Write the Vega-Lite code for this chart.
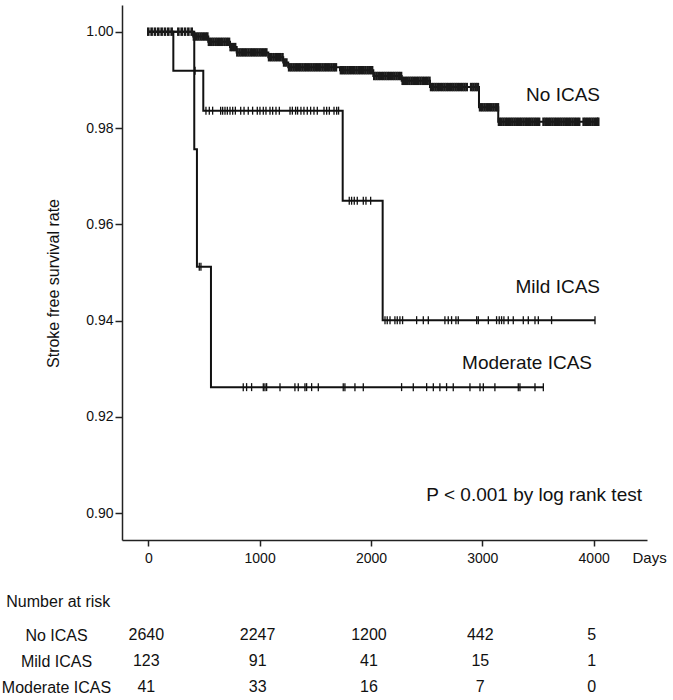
{
 "$schema": "https://vega.github.io/schema/vega-lite/v6.json",
 "padding": {"left": 1, "top": 5, "right": 0, "bottom": 0},
 "background": "white",
 "spacing": 29,
 "config": {
  "font": "Liberation Sans",
  "view": {"stroke": null},
  "axis": {"domainColor": "#222", "tickColor": "#222", "labelColor": "#111", "titleColor": "#111", "grid": false}
 },
 "datasets": {
  "curves": [
   {"g": "No ICAS", "t": 0, "s": 1.0},
   {"g": "No ICAS", "t": 404, "s": 0.999},
   {"g": "No ICAS", "t": 539, "s": 0.9979},
   {"g": "No ICAS", "t": 734, "s": 0.9968},
   {"g": "No ICAS", "t": 794, "s": 0.9957},
   {"g": "No ICAS", "t": 1078, "s": 0.9947},
   {"g": "No ICAS", "t": 1212, "s": 0.9936},
   {"g": "No ICAS", "t": 1257, "s": 0.9926},
   {"g": "No ICAS", "t": 1722, "s": 0.992},
   {"g": "No ICAS", "t": 2021, "s": 0.9908},
   {"g": "No ICAS", "t": 2276, "s": 0.9898},
   {"g": "No ICAS", "t": 2530, "s": 0.9885},
   {"g": "No ICAS", "t": 2970, "s": 0.9843},
   {"g": "No ICAS", "t": 3143, "s": 0.9813},
   {"g": "No ICAS", "t": 4041, "s": 0.9813},
   {"g": "Mild ICAS", "t": 0, "s": 1.0},
   {"g": "Mild ICAS", "t": 225, "s": 0.9919},
   {"g": "Mild ICAS", "t": 494, "s": 0.9836},
   {"g": "Mild ICAS", "t": 1746, "s": 0.9649},
   {"g": "Mild ICAS", "t": 2105, "s": 0.9401},
   {"g": "Mild ICAS", "t": 4012, "s": 0.9401},
   {"g": "Moderate ICAS", "t": 0, "s": 1.0},
   {"g": "Moderate ICAS", "t": 413, "s": 0.9756},
   {"g": "Moderate ICAS", "t": 437, "s": 0.9512},
   {"g": "Moderate ICAS", "t": 563, "s": 0.9262},
   {"g": "Moderate ICAS", "t": 3548, "s": 0.9262}
  ],
  "censor": [
   {"g": "No ICAS", "t": 0, "s": 1.0}, {"g": "No ICAS", "t": 30, "s": 1.0}, {"g": "No ICAS", "t": 60, "s": 1.0}, {"g": "No ICAS", "t": 90, "s": 1.0}, {"g": "No ICAS", "t": 120, "s": 1.0}, {"g": "No ICAS", "t": 150, "s": 1.0}, {"g": "No ICAS", "t": 180, "s": 1.0}, {"g": "No ICAS", "t": 210, "s": 1.0}, {"g": "No ICAS", "t": 270, "s": 1.0}, {"g": "No ICAS", "t": 300, "s": 1.0}, {"g": "No ICAS", "t": 330, "s": 1.0}, {"g": "No ICAS", "t": 360, "s": 1.0}, {"g": "No ICAS", "t": 390, "s": 1.0},
   {"g": "No ICAS", "t": 410, "s": 0.999}, {"g": "No ICAS", "t": 430, "s": 0.999}, {"g": "No ICAS", "t": 450, "s": 0.999}, {"g": "No ICAS", "t": 470, "s": 0.999}, {"g": "No ICAS", "t": 490, "s": 0.999}, {"g": "No ICAS", "t": 510, "s": 0.999}, {"g": "No ICAS", "t": 530, "s": 0.999},
   {"g": "No ICAS", "t": 545, "s": 0.9979}, {"g": "No ICAS", "t": 565, "s": 0.9979}, {"g": "No ICAS", "t": 585, "s": 0.9979}, {"g": "No ICAS", "t": 605, "s": 0.9979}, {"g": "No ICAS", "t": 625, "s": 0.9979}, {"g": "No ICAS", "t": 645, "s": 0.9979}, {"g": "No ICAS", "t": 665, "s": 0.9979}, {"g": "No ICAS", "t": 685, "s": 0.9979}, {"g": "No ICAS", "t": 705, "s": 0.9979}, {"g": "No ICAS", "t": 725, "s": 0.9979},
   {"g": "No ICAS", "t": 740, "s": 0.9968}, {"g": "No ICAS", "t": 760, "s": 0.9968}, {"g": "No ICAS", "t": 780, "s": 0.9968},
   {"g": "No ICAS", "t": 800, "s": 0.9957}, {"g": "No ICAS", "t": 820, "s": 0.9957}, {"g": "No ICAS", "t": 840, "s": 0.9957}, {"g": "No ICAS", "t": 860, "s": 0.9957}, {"g": "No ICAS", "t": 880, "s": 0.9957}, {"g": "No ICAS", "t": 900, "s": 0.9957}, {"g": "No ICAS", "t": 920, "s": 0.9957}, {"g": "No ICAS", "t": 940, "s": 0.9957}, {"g": "No ICAS", "t": 960, "s": 0.9957}, {"g": "No ICAS", "t": 980, "s": 0.9957}, {"g": "No ICAS", "t": 1000, "s": 0.9957}, {"g": "No ICAS", "t": 1020, "s": 0.9957}, {"g": "No ICAS", "t": 1040, "s": 0.9957}, {"g": "No ICAS", "t": 1060, "s": 0.9957},
   {"g": "No ICAS", "t": 1085, "s": 0.9947}, {"g": "No ICAS", "t": 1105, "s": 0.9947}, {"g": "No ICAS", "t": 1125, "s": 0.9947}, {"g": "No ICAS", "t": 1145, "s": 0.9947}, {"g": "No ICAS", "t": 1165, "s": 0.9947}, {"g": "No ICAS", "t": 1185, "s": 0.9947}, {"g": "No ICAS", "t": 1205, "s": 0.9947},
   {"g": "No ICAS", "t": 1220, "s": 0.9936}, {"g": "No ICAS", "t": 1240, "s": 0.9936},
   {"g": "No ICAS", "t": 1265, "s": 0.9926}, {"g": "No ICAS", "t": 1285, "s": 0.9926}, {"g": "No ICAS", "t": 1305, "s": 0.9926}, {"g": "No ICAS", "t": 1325, "s": 0.9926}, {"g": "No ICAS", "t": 1345, "s": 0.9926}, {"g": "No ICAS", "t": 1365, "s": 0.9926}, {"g": "No ICAS", "t": 1385, "s": 0.9926}, {"g": "No ICAS", "t": 1405, "s": 0.9926}, {"g": "No ICAS", "t": 1425, "s": 0.9926}, {"g": "No ICAS", "t": 1445, "s": 0.9926}, {"g": "No ICAS", "t": 1465, "s": 0.9926}, {"g": "No ICAS", "t": 1485, "s": 0.9926}, {"g": "No ICAS", "t": 1505, "s": 0.9926}, {"g": "No ICAS", "t": 1525, "s": 0.9926}, {"g": "No ICAS", "t": 1545, "s": 0.9926}, {"g": "No ICAS", "t": 1565, "s": 0.9926}, {"g": "No ICAS", "t": 1585, "s": 0.9926}, {"g": "No ICAS", "t": 1605, "s": 0.9926}, {"g": "No ICAS", "t": 1625, "s": 0.9926}, {"g": "No ICAS", "t": 1645, "s": 0.9926}, {"g": "No ICAS", "t": 1665, "s": 0.9926}, {"g": "No ICAS", "t": 1685, "s": 0.9926},
   {"g": "No ICAS", "t": 1730, "s": 0.992}, {"g": "No ICAS", "t": 1750, "s": 0.992}, {"g": "No ICAS", "t": 1770, "s": 0.992}, {"g": "No ICAS", "t": 1790, "s": 0.992}, {"g": "No ICAS", "t": 1810, "s": 0.992}, {"g": "No ICAS", "t": 1830, "s": 0.992}, {"g": "No ICAS", "t": 1850, "s": 0.992}, {"g": "No ICAS", "t": 1870, "s": 0.992}, {"g": "No ICAS", "t": 1890, "s": 0.992}, {"g": "No ICAS", "t": 1910, "s": 0.992}, {"g": "No ICAS", "t": 1930, "s": 0.992}, {"g": "No ICAS", "t": 1950, "s": 0.992}, {"g": "No ICAS", "t": 1970, "s": 0.992}, {"g": "No ICAS", "t": 1990, "s": 0.992}, {"g": "No ICAS", "t": 2010, "s": 0.992},
   {"g": "No ICAS", "t": 2030, "s": 0.9908}, {"g": "No ICAS", "t": 2050, "s": 0.9908}, {"g": "No ICAS", "t": 2070, "s": 0.9908}, {"g": "No ICAS", "t": 2090, "s": 0.9908}, {"g": "No ICAS", "t": 2110, "s": 0.9908}, {"g": "No ICAS", "t": 2130, "s": 0.9908}, {"g": "No ICAS", "t": 2150, "s": 0.9908}, {"g": "No ICAS", "t": 2170, "s": 0.9908}, {"g": "No ICAS", "t": 2190, "s": 0.9908}, {"g": "No ICAS", "t": 2210, "s": 0.9908}, {"g": "No ICAS", "t": 2230, "s": 0.9908}, {"g": "No ICAS", "t": 2250, "s": 0.9908}, {"g": "No ICAS", "t": 2270, "s": 0.9908},
   {"g": "No ICAS", "t": 2285, "s": 0.9898}, {"g": "No ICAS", "t": 2305, "s": 0.9898}, {"g": "No ICAS", "t": 2325, "s": 0.9898}, {"g": "No ICAS", "t": 2345, "s": 0.9898}, {"g": "No ICAS", "t": 2365, "s": 0.9898}, {"g": "No ICAS", "t": 2385, "s": 0.9898}, {"g": "No ICAS", "t": 2405, "s": 0.9898}, {"g": "No ICAS", "t": 2425, "s": 0.9898}, {"g": "No ICAS", "t": 2445, "s": 0.9898}, {"g": "No ICAS", "t": 2465, "s": 0.9898}, {"g": "No ICAS", "t": 2485, "s": 0.9898}, {"g": "No ICAS", "t": 2505, "s": 0.9898}, {"g": "No ICAS", "t": 2525, "s": 0.9898},
   {"g": "No ICAS", "t": 2540, "s": 0.9885}, {"g": "No ICAS", "t": 2560, "s": 0.9885}, {"g": "No ICAS", "t": 2580, "s": 0.9885}, {"g": "No ICAS", "t": 2600, "s": 0.9885}, {"g": "No ICAS", "t": 2620, "s": 0.9885}, {"g": "No ICAS", "t": 2640, "s": 0.9885}, {"g": "No ICAS", "t": 2660, "s": 0.9885}, {"g": "No ICAS", "t": 2680, "s": 0.9885}, {"g": "No ICAS", "t": 2700, "s": 0.9885}, {"g": "No ICAS", "t": 2720, "s": 0.9885}, {"g": "No ICAS", "t": 2740, "s": 0.9885}, {"g": "No ICAS", "t": 2760, "s": 0.9885}, {"g": "No ICAS", "t": 2780, "s": 0.9885}, {"g": "No ICAS", "t": 2800, "s": 0.9885}, {"g": "No ICAS", "t": 2820, "s": 0.9885}, {"g": "No ICAS", "t": 2840, "s": 0.9885}, {"g": "No ICAS", "t": 2860, "s": 0.9885}, {"g": "No ICAS", "t": 2900, "s": 0.9885}, {"g": "No ICAS", "t": 2920, "s": 0.9885}, {"g": "No ICAS", "t": 2940, "s": 0.9885}, {"g": "No ICAS", "t": 2960, "s": 0.9885},
   {"g": "No ICAS", "t": 2980, "s": 0.9843}, {"g": "No ICAS", "t": 3000, "s": 0.9843}, {"g": "No ICAS", "t": 3020, "s": 0.9843}, {"g": "No ICAS", "t": 3040, "s": 0.9843}, {"g": "No ICAS", "t": 3060, "s": 0.9843}, {"g": "No ICAS", "t": 3080, "s": 0.9843}, {"g": "No ICAS", "t": 3100, "s": 0.9843}, {"g": "No ICAS", "t": 3120, "s": 0.9843}, {"g": "No ICAS", "t": 3140, "s": 0.9843},
   {"g": "No ICAS", "t": 3150, "s": 0.9813}, {"g": "No ICAS", "t": 3170, "s": 0.9813}, {"g": "No ICAS", "t": 3190, "s": 0.9813}, {"g": "No ICAS", "t": 3210, "s": 0.9813}, {"g": "No ICAS", "t": 3230, "s": 0.9813}, {"g": "No ICAS", "t": 3250, "s": 0.9813}, {"g": "No ICAS", "t": 3270, "s": 0.9813}, {"g": "No ICAS", "t": 3290, "s": 0.9813}, {"g": "No ICAS", "t": 3310, "s": 0.9813}, {"g": "No ICAS", "t": 3330, "s": 0.9813}, {"g": "No ICAS", "t": 3350, "s": 0.9813}, {"g": "No ICAS", "t": 3370, "s": 0.9813}, {"g": "No ICAS", "t": 3390, "s": 0.9813}, {"g": "No ICAS", "t": 3410, "s": 0.9813}, {"g": "No ICAS", "t": 3430, "s": 0.9813}, {"g": "No ICAS", "t": 3450, "s": 0.9813}, {"g": "No ICAS", "t": 3470, "s": 0.9813}, {"g": "No ICAS", "t": 3490, "s": 0.9813}, {"g": "No ICAS", "t": 3510, "s": 0.9813}, {"g": "No ICAS", "t": 3550, "s": 0.9813}, {"g": "No ICAS", "t": 3570, "s": 0.9813}, {"g": "No ICAS", "t": 3590, "s": 0.9813}, {"g": "No ICAS", "t": 3610, "s": 0.9813}, {"g": "No ICAS", "t": 3630, "s": 0.9813}, {"g": "No ICAS", "t": 3650, "s": 0.9813}, {"g": "No ICAS", "t": 3670, "s": 0.9813}, {"g": "No ICAS", "t": 3690, "s": 0.9813}, {"g": "No ICAS", "t": 3710, "s": 0.9813}, {"g": "No ICAS", "t": 3730, "s": 0.9813}, {"g": "No ICAS", "t": 3750, "s": 0.9813}, {"g": "No ICAS", "t": 3770, "s": 0.9813}, {"g": "No ICAS", "t": 3790, "s": 0.9813}, {"g": "No ICAS", "t": 3810, "s": 0.9813}, {"g": "No ICAS", "t": 3830, "s": 0.9813}, {"g": "No ICAS", "t": 3850, "s": 0.9813}, {"g": "No ICAS", "t": 3870, "s": 0.9813}, {"g": "No ICAS", "t": 3910, "s": 0.9813}, {"g": "No ICAS", "t": 3930, "s": 0.9813}, {"g": "No ICAS", "t": 3950, "s": 0.9813}, {"g": "No ICAS", "t": 3970, "s": 0.9813}, {"g": "No ICAS", "t": 3990, "s": 0.9813}, {"g": "No ICAS", "t": 4010, "s": 0.9813}, {"g": "No ICAS", "t": 4030, "s": 0.9813}, {"g": "No ICAS", "t": 4041, "s": 0.9813},
   {"g": "Mild ICAS", "t": 420, "s": 0.9919},
   {"g": "Mild ICAS", "t": 518, "s": 0.9836}, {"g": "Mild ICAS", "t": 548, "s": 0.9836}, {"g": "Mild ICAS", "t": 578, "s": 0.9836}, {"g": "Mild ICAS", "t": 650, "s": 0.9836}, {"g": "Mild ICAS", "t": 668, "s": 0.9836}, {"g": "Mild ICAS", "t": 689, "s": 0.9836}, {"g": "Mild ICAS", "t": 710, "s": 0.9836}, {"g": "Mild ICAS", "t": 734, "s": 0.9836}, {"g": "Mild ICAS", "t": 758, "s": 0.9836}, {"g": "Mild ICAS", "t": 782, "s": 0.9836}, {"g": "Mild ICAS", "t": 830, "s": 0.9836}, {"g": "Mild ICAS", "t": 860, "s": 0.9836}, {"g": "Mild ICAS", "t": 898, "s": 0.9836}, {"g": "Mild ICAS", "t": 937, "s": 0.9836}, {"g": "Mild ICAS", "t": 979, "s": 0.9836}, {"g": "Mild ICAS", "t": 1003, "s": 0.9836}, {"g": "Mild ICAS", "t": 1033, "s": 0.9836}, {"g": "Mild ICAS", "t": 1057, "s": 0.9836}, {"g": "Mild ICAS", "t": 1093, "s": 0.9836}, {"g": "Mild ICAS", "t": 1117, "s": 0.9836}, {"g": "Mild ICAS", "t": 1147, "s": 0.9836}, {"g": "Mild ICAS", "t": 1177, "s": 0.9836}, {"g": "Mild ICAS", "t": 1273, "s": 0.9836}, {"g": "Mild ICAS", "t": 1294, "s": 0.9836}, {"g": "Mild ICAS", "t": 1323, "s": 0.9836}, {"g": "Mild ICAS", "t": 1341, "s": 0.9836}, {"g": "Mild ICAS", "t": 1371, "s": 0.9836}, {"g": "Mild ICAS", "t": 1398, "s": 0.9836}, {"g": "Mild ICAS", "t": 1428, "s": 0.9836}, {"g": "Mild ICAS", "t": 1458, "s": 0.9836}, {"g": "Mild ICAS", "t": 1488, "s": 0.9836}, {"g": "Mild ICAS", "t": 1518, "s": 0.9836}, {"g": "Mild ICAS", "t": 1578, "s": 0.9836}, {"g": "Mild ICAS", "t": 1602, "s": 0.9836}, {"g": "Mild ICAS", "t": 1626, "s": 0.9836}, {"g": "Mild ICAS", "t": 1668, "s": 0.9836}, {"g": "Mild ICAS", "t": 1692, "s": 0.9836}, {"g": "Mild ICAS", "t": 1709, "s": 0.9836},
   {"g": "Mild ICAS", "t": 1805, "s": 0.9649}, {"g": "Mild ICAS", "t": 1826, "s": 0.9649}, {"g": "Mild ICAS", "t": 1850, "s": 0.9649}, {"g": "Mild ICAS", "t": 1877, "s": 0.9649}, {"g": "Mild ICAS", "t": 1931, "s": 0.9649}, {"g": "Mild ICAS", "t": 1955, "s": 0.9649}, {"g": "Mild ICAS", "t": 1997, "s": 0.9649},
   {"g": "Mild ICAS", "t": 2126, "s": 0.9401}, {"g": "Mild ICAS", "t": 2146, "s": 0.9401}, {"g": "Mild ICAS", "t": 2171, "s": 0.9401}, {"g": "Mild ICAS", "t": 2215, "s": 0.9401}, {"g": "Mild ICAS", "t": 2236, "s": 0.9401}, {"g": "Mild ICAS", "t": 2260, "s": 0.9401}, {"g": "Mild ICAS", "t": 2284, "s": 0.9401}, {"g": "Mild ICAS", "t": 2410, "s": 0.9401}, {"g": "Mild ICAS", "t": 2470, "s": 0.9401}, {"g": "Mild ICAS", "t": 2515, "s": 0.9401}, {"g": "Mild ICAS", "t": 2664, "s": 0.9401}, {"g": "Mild ICAS", "t": 2694, "s": 0.9401}, {"g": "Mild ICAS", "t": 2724, "s": 0.9401}, {"g": "Mild ICAS", "t": 2763, "s": 0.9401}, {"g": "Mild ICAS", "t": 2784, "s": 0.9401}, {"g": "Mild ICAS", "t": 2949, "s": 0.9401}, {"g": "Mild ICAS", "t": 2964, "s": 0.9401}, {"g": "Mild ICAS", "t": 3054, "s": 0.9401}, {"g": "Mild ICAS", "t": 3128, "s": 0.9401}, {"g": "Mild ICAS", "t": 3152, "s": 0.9401}, {"g": "Mild ICAS", "t": 3173, "s": 0.9401}, {"g": "Mild ICAS", "t": 3194, "s": 0.9401}, {"g": "Mild ICAS", "t": 3233, "s": 0.9401}, {"g": "Mild ICAS", "t": 3278, "s": 0.9401}, {"g": "Mild ICAS", "t": 3368, "s": 0.9401}, {"g": "Mild ICAS", "t": 3413, "s": 0.9401}, {"g": "Mild ICAS", "t": 3473, "s": 0.9401}, {"g": "Mild ICAS", "t": 3503, "s": 0.9401}, {"g": "Mild ICAS", "t": 3622, "s": 0.9401}, {"g": "Mild ICAS", "t": 4012, "s": 0.9401},
   {"g": "Moderate ICAS", "t": 458, "s": 0.9512}, {"g": "Moderate ICAS", "t": 473, "s": 0.9512},
   {"g": "Moderate ICAS", "t": 853, "s": 0.9262}, {"g": "Moderate ICAS", "t": 883, "s": 0.9262}, {"g": "Moderate ICAS", "t": 928, "s": 0.9262}, {"g": "Moderate ICAS", "t": 1033, "s": 0.9262}, {"g": "Moderate ICAS", "t": 1048, "s": 0.9262}, {"g": "Moderate ICAS", "t": 1063, "s": 0.9262}, {"g": "Moderate ICAS", "t": 1183, "s": 0.9262}, {"g": "Moderate ICAS", "t": 1317, "s": 0.9262}, {"g": "Moderate ICAS", "t": 1347, "s": 0.9262}, {"g": "Moderate ICAS", "t": 1407, "s": 0.9262}, {"g": "Moderate ICAS", "t": 1422, "s": 0.9262}, {"g": "Moderate ICAS", "t": 1467, "s": 0.9262}, {"g": "Moderate ICAS", "t": 1527, "s": 0.9262}, {"g": "Moderate ICAS", "t": 1751, "s": 0.9262}, {"g": "Moderate ICAS", "t": 1766, "s": 0.9262}, {"g": "Moderate ICAS", "t": 1856, "s": 0.9262}, {"g": "Moderate ICAS", "t": 1931, "s": 0.9262}, {"g": "Moderate ICAS", "t": 2275, "s": 0.9262}, {"g": "Moderate ICAS", "t": 2380, "s": 0.9262}, {"g": "Moderate ICAS", "t": 2500, "s": 0.9262}, {"g": "Moderate ICAS", "t": 2560, "s": 0.9262}, {"g": "Moderate ICAS", "t": 2619, "s": 0.9262}, {"g": "Moderate ICAS", "t": 2679, "s": 0.9262}, {"g": "Moderate ICAS", "t": 2739, "s": 0.9262}, {"g": "Moderate ICAS", "t": 2889, "s": 0.9262}, {"g": "Moderate ICAS", "t": 2979, "s": 0.9262}, {"g": "Moderate ICAS", "t": 3009, "s": 0.9262}, {"g": "Moderate ICAS", "t": 3113, "s": 0.9262}, {"g": "Moderate ICAS", "t": 3323, "s": 0.9262}, {"g": "Moderate ICAS", "t": 3338, "s": 0.9262}, {"g": "Moderate ICAS", "t": 3473, "s": 0.9262}, {"g": "Moderate ICAS", "t": 3548, "s": 0.9262}
  ],
  "labels": [
   {"label": "No ICAS", "t": 4057, "s": 0.98686},
   {"label": "Mild ICAS", "t": 4057, "s": 0.94699},
   {"label": "Moderate ICAS", "t": 3985, "s": 0.9312},
   {"label": "P < 0.001 by log rank test", "t": 4434, "s": 0.9038}
  ],
  "risk": [
   {"g": "No ICAS", "t": 0, "n": 2640}, {"g": "No ICAS", "t": 1000, "n": 2247}, {"g": "No ICAS", "t": 2000, "n": 1200}, {"g": "No ICAS", "t": 3000, "n": 442}, {"g": "No ICAS", "t": 4000, "n": 5},
   {"g": "Mild ICAS", "t": 0, "n": 123}, {"g": "Mild ICAS", "t": 1000, "n": 91}, {"g": "Mild ICAS", "t": 2000, "n": 41}, {"g": "Mild ICAS", "t": 3000, "n": 15}, {"g": "Mild ICAS", "t": 4000, "n": 1},
   {"g": "Moderate ICAS", "t": 0, "n": 41}, {"g": "Moderate ICAS", "t": 1000, "n": 33}, {"g": "Moderate ICAS", "t": 2000, "n": 16}, {"g": "Moderate ICAS", "t": 3000, "n": 7}, {"g": "Moderate ICAS", "t": 4000, "n": 0}
  ]
 },
 "vconcat": [
  {
   "width": 525,
   "height": 535,
   "encoding": {
    "x": {
     "field": "t", "type": "quantitative",
     "scale": {"domain": [-236, 4479], "nice": false, "zero": false},
     "axis": {"values": [0, 1000, 2000, 3000, 4000], "format": "d", "title": "Days", "titleX": 510, "titleY": 17, "titleAlign": "left", "titleBaseline": "middle", "titleFontSize": 15, "titleFontWeight": "normal", "labelFontSize": 14, "tickSize": 6, "labelPadding": 5, "domainWidth": 1.5, "tickWidth": 1.5}
    },
    "y": {
     "field": "s", "type": "quantitative",
     "scale": {"domain": [0.89446, 1.00554], "nice": false, "zero": false},
     "axis": {"values": [0.9, 0.92, 0.94, 0.96, 0.98, 1.0], "format": ".2f", "title": "Stroke free survival rate", "titleFontSize": 16, "titleFontWeight": "normal", "titlePadding": 24, "titleY": 278, "labelFontSize": 14, "tickSize": 7, "labelPadding": 2, "domainWidth": 1.5, "tickWidth": 1.5}
    }
   },
   "layer": [
    {"data": {"name": "curves"}, "mark": {"type": "line", "interpolate": "step-after", "color": "#111", "strokeWidth": 2}, "encoding": {"detail": {"field": "g"}}},
    {"data": {"name": "censor"}, "transform": [{"filter": "datum.g === 'No ICAS'"}], "mark": {"type": "point", "shape": "M0,-1L0,1", "size": 72, "filled": false, "stroke": "#1a1a1a", "strokeWidth": 2.6, "opacity": 1}, "encoding": {"detail": {"field": "g"}}},
    {"data": {"name": "censor"}, "transform": [{"filter": "datum.g !== 'No ICAS'"}], "mark": {"type": "point", "shape": "M0,-1L0,1", "size": 64, "filled": false, "stroke": "#111", "strokeWidth": 1.3, "opacity": 1}, "encoding": {"detail": {"field": "g"}}},
    {"data": {"name": "labels"}, "mark": {"type": "text", "align": "right", "baseline": "middle", "fontSize": 19, "color": "#111"}, "encoding": {"text": {"field": "label"}}}
   ]
  },
  {
   "width": 525,
   "height": 78,
   "data": {"name": "risk"},
   "title": {"text": "Number at risk", "anchor": "start", "frame": "bounds", "fontSize": 16, "fontWeight": "normal", "offset": 12, "dx": 5, "color": "#111"},
   "mark": {"type": "text", "fontSize": 16, "color": "#111", "dx": -2},
   "encoding": {
    "x": {"field": "t", "type": "quantitative", "scale": {"domain": [-236, 4479], "nice": false, "zero": false}, "axis": null},
    "y": {"field": "g", "type": "nominal", "sort": ["No ICAS", "Mild ICAS", "Moderate ICAS"], "scale": {"padding": 0.5}, "axis": {"title": null, "domain": false, "ticks": false, "labelAlign": "center", "labelPadding": 66, "labelFontSize": 16, "labelColor": "#111"}},
    "text": {"field": "n"}
   }
  }
 ]
}
